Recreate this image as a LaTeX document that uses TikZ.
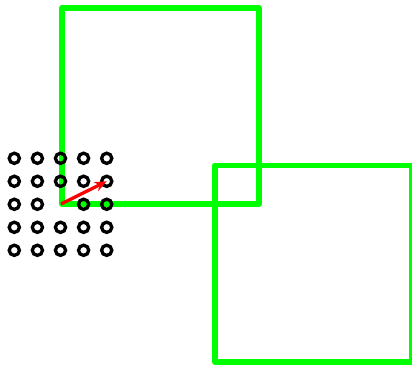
\documentclass[tikz,border=0pt]{standalone}
\usetikzlibrary{arrows.meta}
\definecolor{sqgreen}{RGB}{0,255,0}
\definecolor{arrred}{RGB}{255,0,0}
\tikzset{
  sqbox/.style={draw=sqgreen, line width=5.8pt, line join=round},
  ring/.style={circle, draw=black, line width=3.3pt, minimum size=10.2pt, inner sep=0pt, outer sep=0pt},
  vecarrow/.style={draw=arrred, line width=3.3pt, -{Stealth[length=12pt,width=10pt]}}
}
\begin{document}
\begin{tikzpicture}[x=1pt,y=-1pt]
\useasboundingbox (0,0) rectangle (412,364);
\draw[sqbox] (62,8) rectangle (259,204);
\draw[sqbox] (215,165.5) rectangle (411.5,362);
\foreach \i in {1,...,5}{
  \foreach \j in {1,...,5}{
    \ifnum\i=3 \ifnum\j=3 \else
      \node[ring] (c\i\j) at ({14.3+23.1*(\i-1)},{158.3+23*(\j-1)}) {};
    \fi \else
      \node[ring] (c\i\j) at ({14.3+23.1*(\i-1)},{158.3+23*(\j-1)}) {};
    \fi
  }
}
\coordinate (o) at (61,204);
\draw[vecarrow] (o) -- (c52.center);
\end{tikzpicture}
\end{document}
